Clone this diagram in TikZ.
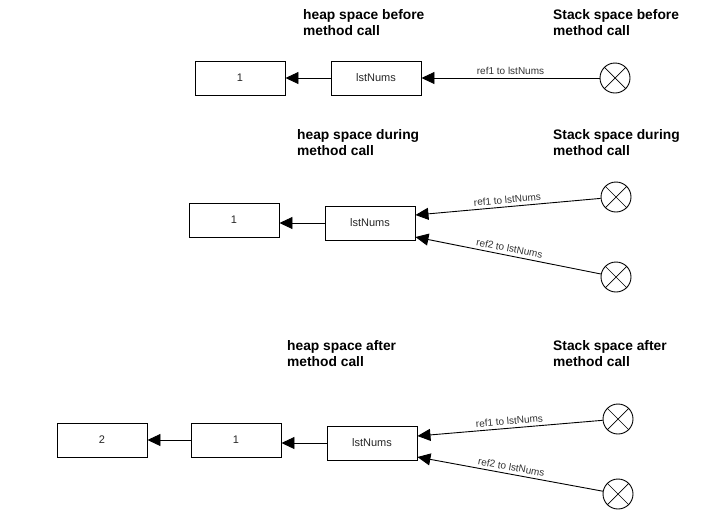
\documentclass[tikz,border=0pt]{standalone}
\usepackage{fontspec}
\setmainfont{Liberation Sans}
\usetikzlibrary{arrows.meta}
\begin{document}
\begin{tikzpicture}[x=1pt,y=-1pt,
  box/.style={draw=black,line width=0.9pt,fill=white,minimum width=90pt,minimum height=34pt,inner sep=0pt,font=\fontsize{11}{13}\selectfont,text=black!85},
  stk/.style={draw=black,line width=0.9pt,fill=white,circle,minimum size=30pt,inner sep=0pt},
  ttl/.style={anchor=north west,align=left,inner sep=0pt,font=\bfseries\fontsize{13.8}{16}\selectfont},
  arr/.style={line width=0.9pt,-{Triangle[length=13pt,width=12pt]}},
  lbl/.style={font=\fontsize{10}{12}\selectfont,text=black!80,inner sep=2pt}]
\useasboundingbox (0,0) rectangle (727,523);
% row 1
\node[ttl] (h1) at (303,9) {heap space before\\method call};
\node[ttl] (s1) at (553,9) {Stack space before\\method call};
\node[box] (a1) at (240,78) {1};
\node[box] (l1) at (376,78) {lstNums};
\node[stk] (c1) at (615,78) {};
\draw[line width=0.7pt] (c1.north east) -- (c1.south west) (c1.north west) -- (c1.south east);
\draw[arr] (l1) -- (a1);
\draw[arr] (c1) -- node[lbl,above=1pt]{ref1 to lstNums} (l1);
% row 2
\node[ttl] (h2) at (297,129) {heap space during\\method call};
\node[ttl] (s2) at (553,129) {Stack space during\\method call};
\node[box] (a2) at (234,220) {1};
\node[box] (l2) at (370,223) {lstNums};
\node[stk] (c2) at (616,197) {};
\node[stk] (d2) at (616,277) {};
\foreach \n in {c2,d2}{\draw[line width=0.7pt] (\n.north east) -- (\n.south west) (\n.north west) -- (\n.south east);}
\draw[arr] (l2.west) -- (l2.west -| a2.east);
\draw[arr] (c2) -- node[lbl,above=1pt,sloped,pos=0.5]{ref1 to lstNums} ([yshift=8pt]l2.east);
\draw[arr] (d2) -- node[lbl,above=1pt,sloped,pos=0.5]{ref2 to lstNums} ([yshift=-14pt]l2.east);
% row 3
\node[ttl] (h3) at (287,340) {heap space after\\method call};
\node[ttl] (s3) at (553,340) {Stack space after\\method call};
\node[box] (b3) at (102,440) {2};
\node[box] (a3) at (236,440) {1};
\node[box] (l3) at (372,443) {lstNums};
\node[stk] (c3) at (618,419) {};
\node[stk] (d3) at (618,494) {};
\foreach \n in {c3,d3}{\draw[line width=0.7pt] (\n.north east) -- (\n.south west) (\n.north west) -- (\n.south east);}
\draw[arr] (l3.west) -- (l3.west -| a3.east);
\draw[arr] (a3) -- (b3);
\draw[arr] (c3) -- node[lbl,above=1pt,sloped,pos=0.5]{ref1 to lstNums} ([yshift=7pt]l3.east);
\draw[arr] (d3) -- node[lbl,above=1pt,sloped,pos=0.5]{ref2 to lstNums} ([yshift=-14pt]l3.east);
\end{tikzpicture}
\end{document}
